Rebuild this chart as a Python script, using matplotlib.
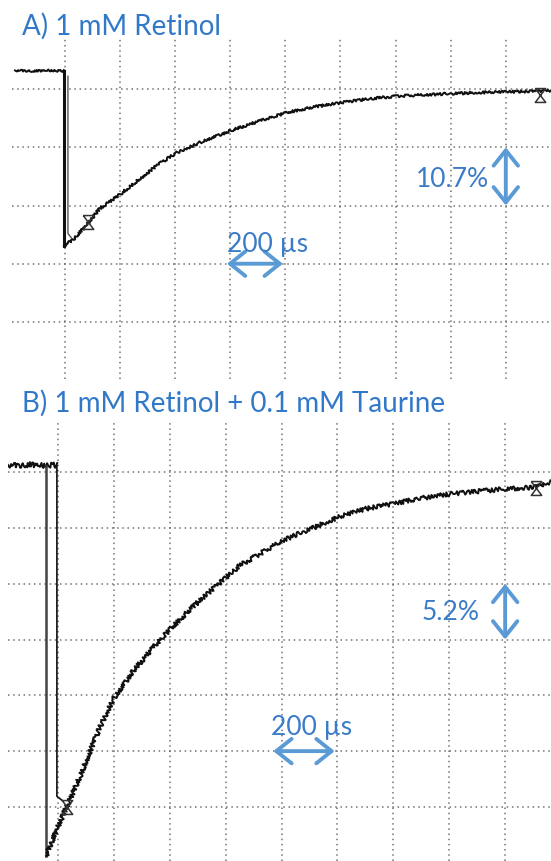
import matplotlib
matplotlib.use('Agg')
import matplotlib.pyplot as plt
from matplotlib.path import Path

plt.rcParams['font.family'] = ['Lato', 'DejaVu Sans']

W, H = 551, 862

# time in µs (200 µs per division), signal in grid divisions below the top grid line
# --- A) 1 mM Retinol ---
a_base_t = [-181, -120, -60, -4]
a_base_y = [0.32, 0.31, 0.32, 0.31]
a_drop_t = [-4, -4]
a_drop_y = [0.31, -2.69]
a_spike_t = [11, 11, 29]
a_spike_y = [0.22, -2.48, -2.59]
a_rise_t = [-4, 29, 83, 127, 200, 272, 340, 407, 508, 610, 744, 809, 900,
            1009, 1100, 1209, 1300, 1397, 1500, 1600, 1764]
a_rise_y = [-2.69, -2.59, -2.31, -2.05, -1.81, -1.54, -1.29, -1.09, -0.88, -0.70,
            -0.49, -0.40, -0.31, -0.23, -0.17, -0.12, -0.10, -0.08, -0.06, -0.05, -0.03]
a_mark_t = [83, 1724]
a_mark_y = [-2.28, -0.10]

# --- B) 1 mM Retinol + 0.1 mM Taurine ---
b_base_t = [-179, -140, -100, -60, -20, -4]
b_base_y = [0.13, 0.12, 0.14, 0.12, 0.13, 0.12]
b_drop_t = [-4, -4, 14]
b_drop_y = [0.12, -5.81, -5.88]
b_edge_t = [-43, -43]
b_edge_y = [0.11, -6.88]
b_rise_t = [-43, -7, 32, 79, 115, 150, 197, 268, 365, 472, 562, 651, 805, 902,
            1002, 1098, 1206, 1295, 1403, 1510, 1599, 1707, 1764]
b_rise_y = [-6.88, -6.43, -5.99, -5.45, -5.00, -4.57, -4.07, -3.57, -3.00, -2.46,
            -2.06, -1.67, -1.22, -1.02, -0.81, -0.66, -0.56, -0.47, -0.39, -0.34,
            -0.30, -0.27, -0.18]
b_mark_t = [32, 1710]
b_mark_y = [-6.00, -0.29]

TITLE = '#3179c8'
TXT = '#3a7cc7'
ARROW = '#5b9bd5'
GRID = '#505050'
TRACE = '#111111'

HOURGLASS = Path([(-0.75, 1), (0.75, 1), (-0.75, -1), (0.75, -1), (-0.75, 1)])

fig = plt.figure(figsize=(W / 100, H / 100), dpi=100)


def px_axes(l, t, r, b):
    return fig.add_axes([l / W, 1 - b / H, (r - l) / W, (b - t) / H])


def scope_grid(ax, xlim, ylim, nx, ny):
    ax.set_xlim(xlim)
    ax.set_ylim(ylim)
    for k in range(nx):
        ax.axvline(k * 200, color=GRID, lw=1.1, ls=(0, (1, 2.4)), alpha=0.8, zorder=1)
    for k in range(ny):
        ax.axhline(-k, color=GRID, lw=1.1, ls=(0, (1, 2.4)), alpha=0.8, zorder=1)
    ax.set_axis_off()


def noisy(ax, t, y, amp, lw=1.4):
    ln, = ax.plot(t, y, color=TRACE, lw=lw, zorder=3)
    ln.set_sketch_params(scale=amp, length=3, randomness=3)
    return ln


def double_arrow(ax, p0, p1):
    ax.annotate('', xy=p1, xytext=p0,
                arrowprops=dict(arrowstyle='<->,head_length=0.5,head_width=0.4',
                                color=ARROW, lw=2.8, shrinkA=0, shrinkB=0,
                                mutation_scale=22), zorder=5)


# panel A
axA = px_axes(12, 40, 551, 380)
scope_grid(axA, (-192, 1764), (-4.98, 0.86), 9, 5)
noisy(axA, a_base_t, a_base_y, 1.0)
axA.plot(a_drop_t, a_drop_y, color=TRACE, lw=2.2, zorder=3)
axA.plot(a_spike_t, a_spike_y, color='#555555', lw=1.0, zorder=3)
noisy(axA, a_rise_t, a_rise_y, 1.3)
axA.plot(a_mark_t, a_mark_y, ls='none', marker=HOURGLASS, ms=10, mfc='none',
         mec='#333333', mew=1.1, zorder=4)
double_arrow(axA, (1600, -1), (1600, -2))
double_arrow(axA, (588, -3), (791, -3))
axA.text(1405, -1.54, '10.7%', ha='center', va='center', fontsize=19, color=TXT, zorder=6)
axA.text(737, -2.66, '200 µs', ha='center', va='center', fontsize=19, color=TXT, zorder=6)

# panel B
axB = px_axes(8, 423, 551, 862)
scope_grid(axB, (-179, 1764), (-6.97, 0.90), 9, 7)
noisy(axB, b_base_t, b_base_y, 2.6)
axB.plot(b_drop_t, b_drop_y, color=TRACE, lw=1.2, zorder=3)
axB.plot(b_edge_t, b_edge_y, color='#444444', lw=1.8, zorder=3)
noisy(axB, b_rise_t, b_rise_y, 2.2)
axB.plot(b_mark_t, b_mark_y, ls='none', marker=HOURGLASS, ms=10, mfc='none',
         mec='#333333', mew=1.1, zorder=4)
double_arrow(axB, (1600, -2), (1600, -3))
double_arrow(axB, (770, -5), (990, -5))
axB.text(1406, -2.49, '5.2%', ha='center', va='center', fontsize=19, color=TXT, zorder=6)
axB.text(909, -4.55, '200 µs', ha='center', va='center', fontsize=19, color=TXT, zorder=6)

fig.text(22 / W, 1 - 35 / H, 'A) 1 mM Retinol', fontsize=20, color=TITLE, va='baseline')
fig.text(22 / W, 1 - 412 / H, 'B) 1 mM Retinol + 0.1 mM Taurine', fontsize=20,
         color=TITLE, va='baseline')

fig.savefig('out.png', dpi=100, facecolor='white')
